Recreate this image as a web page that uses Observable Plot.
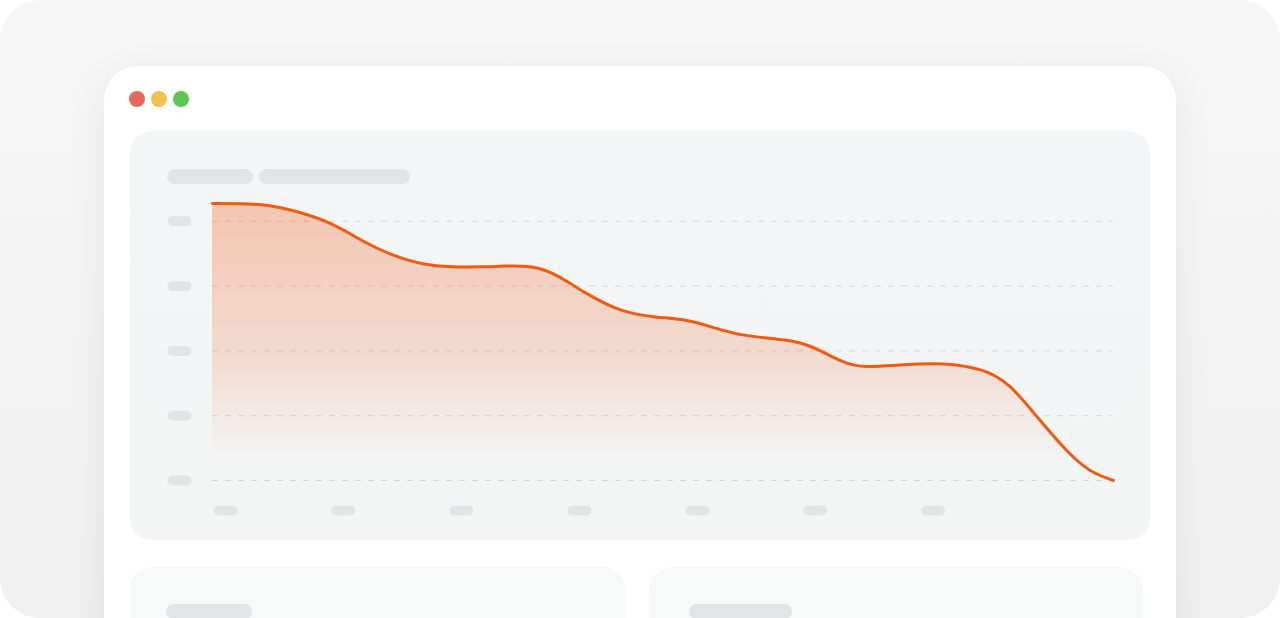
<!DOCTYPE html>
<html>
<head>
<meta charset="utf-8">
<script src="https://cdn.jsdelivr.net/npm/d3@7"></script>
<script src="https://cdn.jsdelivr.net/npm/@observablehq/plot@0.6"></script>
<style>
  html, body { margin: 0; padding: 0; background: #ffffff; font-family: Inter, "Noto Sans", sans-serif; }
  #panel { position: absolute; left: 0; top: 0; width: 1280px; height: 618px; border-radius: 40px; overflow: hidden;
           background: linear-gradient(180deg, #f7f7f7 0%, #f0f0f0 100%); }
  #window { position: absolute; left: 104px; top: 66px; width: 1072px; height: 640px; border-radius: 34px; background: #ffffff;
            box-shadow: 0 8px 40px rgba(0,0,0,0.07); }
  .light { position: absolute; top: 91px; width: 16px; height: 16px; border-radius: 50%; }
  #card { position: absolute; left: 130px; top: 131px; width: 1020px; height: 409px; border-radius: 22px;
          background: linear-gradient(180deg, #f3f5f6 0%, #f3f5f5 100%); }
  .pill { position: absolute; background: #e2e4e6; border-radius: 8px; }
  .sub { position: absolute; top: 567px; height: 80px; border-radius: 22px; background: #f7f8f8; }
  #chart { position: absolute; left: 130px; top: 131px; }
</style>
</head>
<body>
<div id="panel">
  <div id="window"></div>
  <div class="light" style="left:129px;background:#e9665c;"></div>
  <div class="light" style="left:151px;background:#f2c04f;"></div>
  <div class="light" style="left:173px;background:#5dc553;"></div>
  <div id="card"></div>
  <div class="pill" style="left:167px;top:169px;width:86px;height:15px;"></div>
  <div class="pill" style="left:259px;top:169px;width:151px;height:15px;"></div>
  <div class="sub" style="left:130px;width:495px;"></div>
  <div class="sub" style="left:649px;width:494px;"></div>
  <div class="pill" style="left:166px;top:604px;width:86px;height:15px;"></div>
  <div class="pill" style="left:689px;top:604px;width:103px;height:15px;"></div>
  <div id="chart"></div>
</div>
<script>
// Series (x = day index, y = value)
const days   = [0, 1.2, 2.3, 3.7, 5.1, 6.5, 7.9, 9.3, 10.4, 11.4, 12.4, 13.3, 14.3, 15.4, 16.0, 17.3, 18.8, 20.2, 21.6, 22.6, 24.4, 25.4, 26.8, 27.6, 29.3, 31.0, 32.7, 33.8, 34.9, 36.3, 37.2, 38.2];
const values = [85.5, 85.4, 85.2, 82.9, 79.4, 73.2, 68.6, 66.1, 65.9, 65.9, 66.2, 66.3, 64.9, 59.7, 57.1, 52.0, 50.3, 49.7, 46.3, 44.5, 43.5, 41.7, 36.0, 34.8, 35.8, 36.4, 34.5, 29.9, 20.1, 8.2, 2.6, 0];
const yTicks = [0, 20, 40, 60, 80];
const xTicks = [0, 5, 10, 15, 20, 25, 30];

const data = days.map((d, i) => ({day: d, value: values[i]}));

const lineColor = "#f05a12";
const pillColor = "#e2e4e7";

// rounded pill symbol (24 x 10)
const pill = {
  draw(ctx) {
    const hw = 7, r = 5;
    ctx.moveTo(-hw, -r);
    ctx.lineTo(hw, -r);
    ctx.arc(hw, 0, r, -Math.PI / 2, Math.PI / 2);
    ctx.lineTo(-hw, r);
    ctx.arc(-hw, 0, r, Math.PI / 2, 3 * Math.PI / 2);
    ctx.closePath();
  }
};

const defs = () => {
  const d = d3.create("svg:defs");
  const g = d.append("linearGradient").attr("id", "areaFade").attr("x1", 0).attr("y1", 0).attr("x2", 0).attr("y2", 1);
  g.append("stop").attr("offset", "0%").attr("stop-color", "#f26a2a").attr("stop-opacity", 0.34);
  g.append("stop").attr("offset", "55%").attr("stop-color", "#f26a2a").attr("stop-opacity", 0.19);
  g.append("stop").attr("offset", "93%").attr("stop-color", "#f26a2a").attr("stop-opacity", 0);
  return d.node();
};

const chart = Plot.plot({
  width: 1020,
  height: 409,
  marginLeft: 82,
  marginRight: 37,
  marginTop: 25,
  marginBottom: 60,
  style: {background: "transparent", overflow: "visible"},
  x: {domain: [0, 38.2], axis: null},
  y: {domain: [0, 100], axis: null},
  marks: [
    defs,
    Plot.ruleY(yTicks, {stroke: "#d4d6d9", strokeWidth: 1, strokeDasharray: "6,7"}),
    Plot.dot(yTicks, {y: d => d, frameAnchor: "left", dx: -33, symbol: pill, fill: pillColor, stroke: "none"}),
    Plot.dot(xTicks, {x: d => d, frameAnchor: "bottom", dx: 13, dy: 30, symbol: pill, fill: pillColor, stroke: "none"}),
    Plot.areaY(data, {x: "day", y: "value", curve: "basis", fill: "url(#areaFade)"}),
    Plot.line(data, {x: "day", y: "value", curve: "basis", stroke: lineColor, strokeWidth: 3, strokeLinecap: "round"})
  ]
});
document.getElementById("chart").append(chart);
</script>
</body>
</html>
